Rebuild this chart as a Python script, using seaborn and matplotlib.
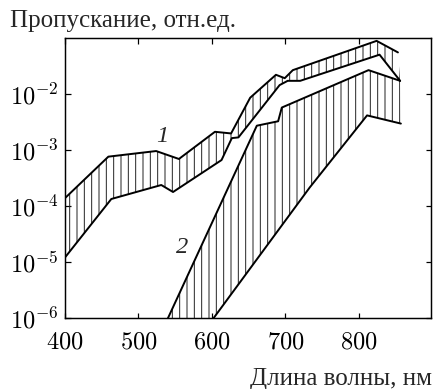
import numpy as np
import pandas as pd
import matplotlib
matplotlib.use("Agg")
import matplotlib.pyplot as plt
import seaborn as sns

# ---- data ----
band1_upper_x = [400, 459, 524, 555, 604, 626, 652, 687, 699, 710, 824, 853]
band1_upper_y = [1.40e-4, 7.7e-4, 9.7e-4, 7.0e-4, 2.14e-3, 2.0e-3, 8.7e-3, 2.23e-2, 1.94e-2, 2.7e-2, 9.0e-2, 5.6e-2]
band1_lower_x = [400, 463, 531, 547, 613, 627, 636, 692, 703, 720, 828, 856]
band1_lower_y = [1.22e-5, 1.35e-4, 2.4e-4, 1.8e-4, 6.7e-4, 1.65e-3, 1.7e-3, 1.46e-2, 1.74e-2, 1.74e-2, 5.1e-2, 1.74e-2]
band2_upper_x = [540, 661, 690, 695, 813, 856]
band2_upper_y = [1e-6, 2.75e-3, 3.3e-3, 5.8e-3, 2.7e-2, 1.74e-2]
band2_lower_x = [602, 733, 811, 857]
band2_lower_y = [1e-6, 2.17e-4, 4.2e-3, 3.0e-3]

band_labels = ["1", "2"]
label_x = [533, 559]
label_y = [1.8e-3, 1.84e-5]

x_ticks = [400, 500, 600, 700, 800]
x_tick_labels = [r"$400$", r"$500$", r"$600$", r"$700$", r"$800$"]
y_ticks = [1e-6, 1e-5, 1e-4, 1e-3, 1e-2]
y_tick_labels = [r"$10^{-6}$", r"$10^{-5}$", r"$10^{-4}$", r"$10^{-3}$", r"$10^{-2}$"]

y_title = "Пропускание, отн.ед."
x_title = "Длина волны, нм"

# ---- style ----
sns.set_style("ticks")
plt.rcParams["font.family"] = ["Liberation Serif", "DejaVu Serif"]
plt.rcParams["mathtext.fontset"] = "cm"
plt.rcParams["hatch.linewidth"] = 0.8
plt.rcParams["hatch.color"] = "#222222"

DPI = 88
fig = plt.figure(figsize=(438 / DPI, 389 / DPI), dpi=DPI)
ax = fig.add_axes([65 / 438, 1 - 318.3 / 389, (431 - 65) / 438, (318.3 - 38.3) / 389])

curves = {
    "1u": (band1_upper_x, band1_upper_y),
    "1l": (band1_lower_x, band1_lower_y),
    "2u": (band2_upper_x, band2_upper_y),
    "2l": (band2_lower_x, band2_lower_y),
}
df = pd.concat(
    [pd.DataFrame({"x": xs, "y": ys, "curve": k}) for k, (xs, ys) in curves.items()],
    ignore_index=True,
)

# hatched bands
for up, lo in (("1u", "1l"), ("2u", "2l")):
    ux, uy = curves[up]
    lx, ly = curves[lo]
    ax.fill(np.r_[ux, lx[::-1]], np.r_[uy, ly[::-1]],
            facecolor="none", edgecolor="#222222", hatch="||", linewidth=0)

sns.lineplot(data=df, x="x", y="y", units="curve", estimator=None, sort=False,
             color="black", linewidth=1.6, ax=ax, legend=False)

ax.set_yscale("log")
ax.set_xlim(400, 898)
ax.set_ylim(1e-6, 0.1)
ax.set_xticks(x_ticks)
ax.set_xticklabels(x_tick_labels)
ax.set_yticks(y_ticks)
ax.set_yticklabels(y_tick_labels)
ax.minorticks_off()
ax.tick_params(direction="in", top=True, right=True, length=4.5, width=1.0,
               labelsize=20, colors="black")
ax.tick_params(axis="x", pad=12)
ax.tick_params(axis="y", pad=5)
for s in ax.spines.values():
    s.set_linewidth(1.2)
    s.set_color("black")
ax.set_xlabel("")
ax.set_ylabel("")

for t, xx, yy in zip(band_labels, label_x, label_y):
    ax.text(xx, yy, t, fontsize=20, fontstyle="italic", ha="center", va="center")

fig.text(10 / 438, 1 - 27 / 389, y_title, fontsize=20.5, ha="left", va="baseline")
fig.text(432 / 438, 1 - 385 / 389, x_title, fontsize=20.5, ha="right", va="baseline")

fig.savefig("out.png", dpi=DPI)
